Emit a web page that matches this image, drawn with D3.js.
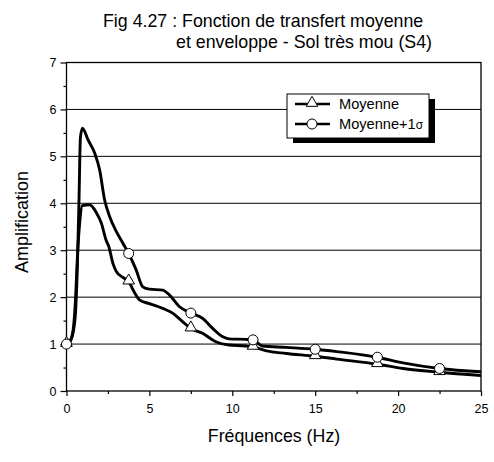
<!DOCTYPE html>
<html>
<head>
<meta charset="utf-8">
<script src="https://cdn.jsdelivr.net/npm/d3@7"></script>
<style>
  body { margin: 0; background: #fff; }
  text { font-family: Arial, "Liberation Sans", sans-serif; fill: #000; }
</style>
</head>
<body>
<svg id="chart" width="494" height="462"></svg>
<script>
// data
const freqMoy = [0, 0.2, 0.4, 0.55, 0.65, 0.8, 0.95, 1.4, 1.8, 2.1, 2.4, 2.55, 2.8, 3.0, 3.4, 3.75, 4.1, 4.4, 5.0, 5.8, 6.4, 7.0, 7.5, 8.2, 9.0, 9.8, 10.8, 11.25, 12, 13.25, 15, 16.3, 18.75, 20.3, 22.5, 25];
const ampMoy = [1.0, 1.05, 1.3, 2.0, 2.8, 3.6, 3.95, 3.97, 3.8, 3.58, 3.2, 3.08, 2.72, 2.55, 2.42, 2.33, 2.1, 1.94, 1.86, 1.76, 1.66, 1.48, 1.33, 1.23, 1.05, 0.98, 0.96, 0.94, 0.86, 0.8, 0.74, 0.68, 0.57, 0.48, 0.40, 0.33];
const freqEnv = [0, 0.2, 0.4, 0.55, 0.65, 0.75, 0.84, 0.96, 1.3, 1.7, 2.0, 2.3, 2.6, 3.0, 3.4, 3.75, 4.2, 4.6, 5.0, 5.8, 6.2, 6.8, 7.5, 8.2, 8.8, 9.4, 9.8, 10.8, 11.25, 11.8, 13.25, 15, 16.3, 18.75, 20.3, 22.5, 25];
const ampEnv = [1.0, 1.05, 1.25, 1.7, 2.6, 4.0, 5.4, 5.6, 5.35, 5.07, 4.71, 4.07, 3.72, 3.40, 3.15, 2.93, 2.58, 2.22, 2.17, 2.15, 2.05, 1.80, 1.66, 1.55, 1.34, 1.16, 1.11, 1.10, 1.09, 0.96, 0.93, 0.89, 0.84, 0.72, 0.60, 0.48, 0.41];
const markerFreqs = [0, 3.75, 7.5, 11.25, 15, 18.75, 22.5];
const xTicks = [0, 5, 10, 15, 20, 25];
const yTicks = [0, 1, 2, 3, 4, 5, 6, 7];
const gridValues = [1, 2, 3, 4, 5, 6];
const titleLines = ["Fig 4.27 : Fonction de transfert moyenne", "et enveloppe - Sol très mou (S4)"];
const legendNames = ["Moyenne", "Moyenne+1"];

//dimensions
const margin = { left: 66.5, right: 13, top: 62.5, bottom: 71 };
const width = 494, height = 462;
const innerW = width - margin.left - margin.right;
const innerH = height - margin.top - margin.bottom;

const svg = d3.select("#chart");
const g = svg.append("g").attr("transform", `translate(${margin.left},${margin.top})`);

const x = d3.scaleLinear().domain([0, 25]).range([0, innerW]);
const y = d3.scaleLinear().domain([0, 7]).range([innerH, 0]);

// title (second line is indented, not centred)
svg.append("text").attr("x", 103).attr("y", 27).style("font-size", "17.8px").text(titleLines[0]);
svg.append("text").attr("x", 176).attr("y", 48).style("font-size", "17.8px").text(titleLines[1]);

// grid
g.selectAll("line.grid").data(gridValues).enter()
  .append("line").attr("class", "grid")
  .attr("x1", 0).attr("x2", innerW)
  .attr("y1", d => y(d)).attr("y2", d => y(d))
  .attr("stroke", "#000").attr("stroke-width", 1);

// frame
g.append("rect").attr("width", innerW).attr("height", innerH)
  .attr("fill", "none").attr("stroke", "#000").attr("stroke-width", 1.3);

// axes
const xAxis = d3.axisBottom(x).tickValues(xTicks).tickSize(5).tickPadding(8);
const xMinor = d3.axisBottom(x).tickValues(d3.range(2.5, 25, 5)).tickSize(3).tickFormat("");
const yAxis = d3.axisLeft(y).tickValues(yTicks).tickSize(6).tickPadding(4).tickFormat(d3.format("d"));
const yMinor = d3.axisLeft(y).tickValues(d3.range(0.5, 7, 1)).tickSize(3).tickFormat("");

[[xAxis, true], [xMinor, true], [yAxis, false], [yMinor, false]].forEach(([ax, isX]) => {
  const a = g.append("g")
    .attr("transform", isX ? `translate(0,${innerH})` : null)
    .call(ax);
  a.select(".domain").remove();
  a.selectAll("line").attr("stroke", "#000").attr("stroke-width", 1.2);
  a.selectAll("text").style("font-size", "12.5px").style("font-family", "Arial, 'Liberation Sans', sans-serif");
});

// axis titles
svg.append("text")
  .attr("x", 274).attr("y", 442)
  .attr("text-anchor", "middle").style("font-size", "17.8px")
  .text("Fréquences (Hz)");
svg.append("text")
  .attr("transform", "translate(28,222) rotate(-90)")
  .attr("text-anchor", "middle").style("font-size", "18px")
  .text("Amplification");

// curves
const series = [
  { name: "moy", f: freqMoy, a: ampMoy, marker: "triangle" },
  { name: "env", f: freqEnv, a: ampEnv, marker: "circle" }
];
const line = d3.line().x(d => x(d[0])).y(d => y(d[1])).curve(d3.curveMonotoneX);

series.forEach(s => {
  const pts = s.f.map((f, i) => [f, s.a[i]]);
  g.append("path").datum(pts)
    .attr("d", line)
    .attr("fill", "none").attr("stroke", "#000").attr("stroke-width", 2.9)
    .attr("stroke-linejoin", "round");
});

const triPath = d3.symbol().type(d3.symbolTriangle).size(58);
series.forEach(s => {
  const pts = s.f.map((f, i) => [f, s.a[i]]).filter(p => markerFreqs.includes(p[0]));
  const mg = g.selectAll("g.m-" + s.name).data(pts).enter()
    .append("g").attr("class", "m-" + s.name)
    .attr("transform", d => `translate(${x(d[0])},${y(d[1])})`);
  if (s.marker === "circle") {
    mg.append("circle").attr("r", 5).attr("fill", "#fff").attr("stroke", "#000").attr("stroke-width", 1);
  } else {
    mg.append("path").attr("d", triPath).attr("transform", "translate(0,-1)")
      .attr("fill", "#fff").attr("stroke", "#000").attr("stroke-width", 1);
  }
});

// legend with drop shadow
const lg = svg.append("g").attr("transform", "translate(287,94)");
const lw = 142, lh = 44;
lg.append("rect").attr("x", 6).attr("y", 5).attr("width", lw).attr("height", lh).attr("fill", "#000");
lg.append("rect").attr("width", lw).attr("height", lh).attr("fill", "#fff").attr("stroke", "#000").attr("stroke-width", 1);
legendNames.forEach((n, i) => {
  const ry = 10 + i * 20;
  lg.append("line").attr("x1", 8).attr("x2", 43).attr("y1", ry).attr("y2", ry)
    .attr("stroke", "#000").attr("stroke-width", 2.5);
  if (i === 0) {
    lg.append("path").attr("d", triPath).attr("transform", `translate(25,${ry - 1})`)
      .attr("fill", "#fff").attr("stroke", "#000");
  } else {
    lg.append("circle").attr("cx", 25).attr("cy", ry).attr("r", 5)
      .attr("fill", "#fff").attr("stroke", "#000");
  }
  const t = lg.append("text").attr("x", 52).attr("y", ry + 5).style("font-size", "14.6px").text(n);
  if (i === 1) t.append("tspan").style("font-size", "12px").text("σ");
});
</script>
</body>
</html>
